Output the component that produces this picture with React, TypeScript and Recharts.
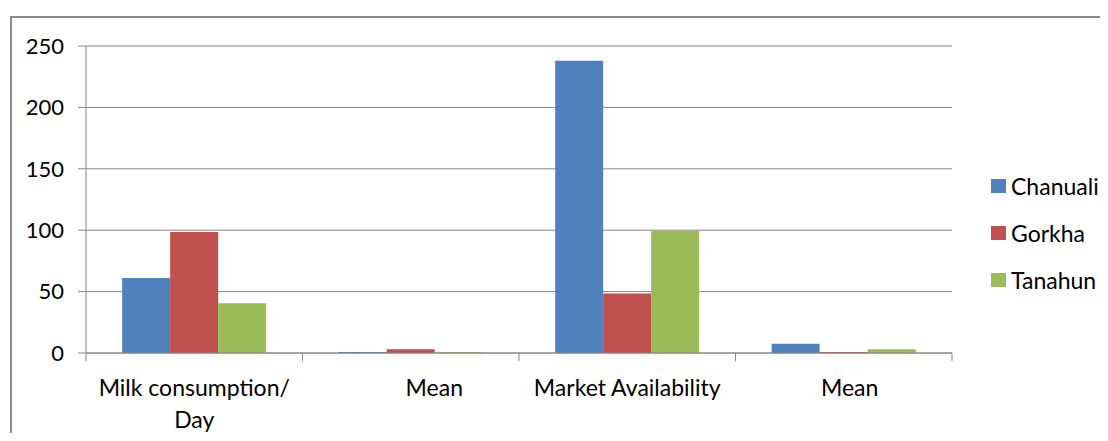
import React from "react";
import { BarChart, Bar, XAxis, YAxis, CartesianGrid, Legend } from "recharts";

const categories = [
  "Milk consumption/\nDay",
  "\u00a0\u00a0\u00a0\u00a0\u00a0\u00a0\u00a0\u00a0Mean",
  "Market Availability",
  "\u00a0\u00a0Mean",
];
const chanuali = [61, 0.8, 238, 7.5];
const gorkha = [98.5, 3, 48.5, 0.8];
const tanahun = [40.5, 0.8, 99.5, 3];
const yTicks = [0, 50, 100, 150, 200, 250];

const seriesNames = ["Chanuali", "Gorkha", "Tanahun"];
const seriesColors = ["#4F81BD", "#C0504D", "#9BBB59"];

const data = categories.map((c, i) => ({
  name: c,
  Chanuali: chanuali[i],
  Gorkha: gorkha[i],
  Tanahun: tanahun[i],
}));

const FONT = "Lato, 'Liberation Sans', sans-serif";
const AXIS = "#868686";

const CatTick = (props: any) => {
  const { x, y, payload, index, visibleTicksCount } = props;
  const half = payload && typeof payload.offset === "number" ? payload.offset : 0;
  const lines = String(payload.value).split("\n");
  const isLast = index === (visibleTicksCount ?? categories.length) - 1;
  return (
    <g>
      {half > 0 && <line x1={x - half} x2={x - half} y1={y} y2={y + 8} stroke={AXIS} />}
      {half > 0 && isLast && <line x1={x + half} x2={x + half} y1={y} y2={y + 8} stroke={AXIS} />}
      <text x={x} y={y + 35} textAnchor="middle" fontFamily={FONT} fontSize={23} fill="#000">
        {lines.map((l: string, i: number) => (
          <tspan key={i} x={x} dy={i === 0 ? "0.35em" : 32}>
            {l}
          </tspan>
        ))}
      </text>
    </g>
  );
};

const LegendContent = () => (
  <div style={{ fontFamily: FONT, fontSize: 23, color: "#000" }}>
    {seriesNames.map((n, i) => (
      <div key={n} style={{ display: "flex", alignItems: "center", height: 47 }}>
        <div style={{ width: 15, height: 14, background: seriesColors[i], marginRight: 5 }} />
        <span>{n}</span>
      </div>
    ))}
  </div>
);

export default function App() {
  return (
    <div style={{ position: "relative", margin: -8, width: 1108, height: 441, overflow: "hidden", background: "#fff" }}>
      <div
        style={{
          position: "absolute",
          left: 10,
          top: 16,
          width: 1120,
          height: 440,
          border: "2px solid #8a8a8a",
        }}
      />
      <div style={{ position: "absolute", left: 0, top: 0 }}>
        <BarChart
          width={1108}
          height={441}
          data={data}
          margin={{ top: 46, right: 156, bottom: 8, left: 0 }}
          barCategoryGap="16.7%"
          barGap={0}
        >
          <CartesianGrid vertical={false} stroke={AXIS} strokeWidth={1} />
          <XAxis
            dataKey="name"
            height={80}
            axisLine={{ stroke: AXIS }}
            tickLine={false}
            tickSize={0}
            tickMargin={0}
            interval={0}
            tick={<CatTick />}
          />
          <YAxis
            width={86}
            domain={[0, 250]}
            ticks={yTicks}
            tickSize={8}
            tickMargin={14}
            axisLine={{ stroke: AXIS }}
            tickLine={{ stroke: AXIS }}
            tick={{ fontFamily: FONT, fontSize: 22, fill: "#000" }}
          />
          <Legend
            layout="horizontal"
            align="center"
            verticalAlign="middle"
            content={<LegendContent />}
            wrapperStyle={{ left: 991, top: 162, width: 117 }}
          />
          {seriesNames.map((n, i) => (
            <Bar key={n} dataKey={n} fill={seriesColors[i]} isAnimationActive={false} />
          ))}
        </BarChart>
      </div>
    </div>
  );
}
